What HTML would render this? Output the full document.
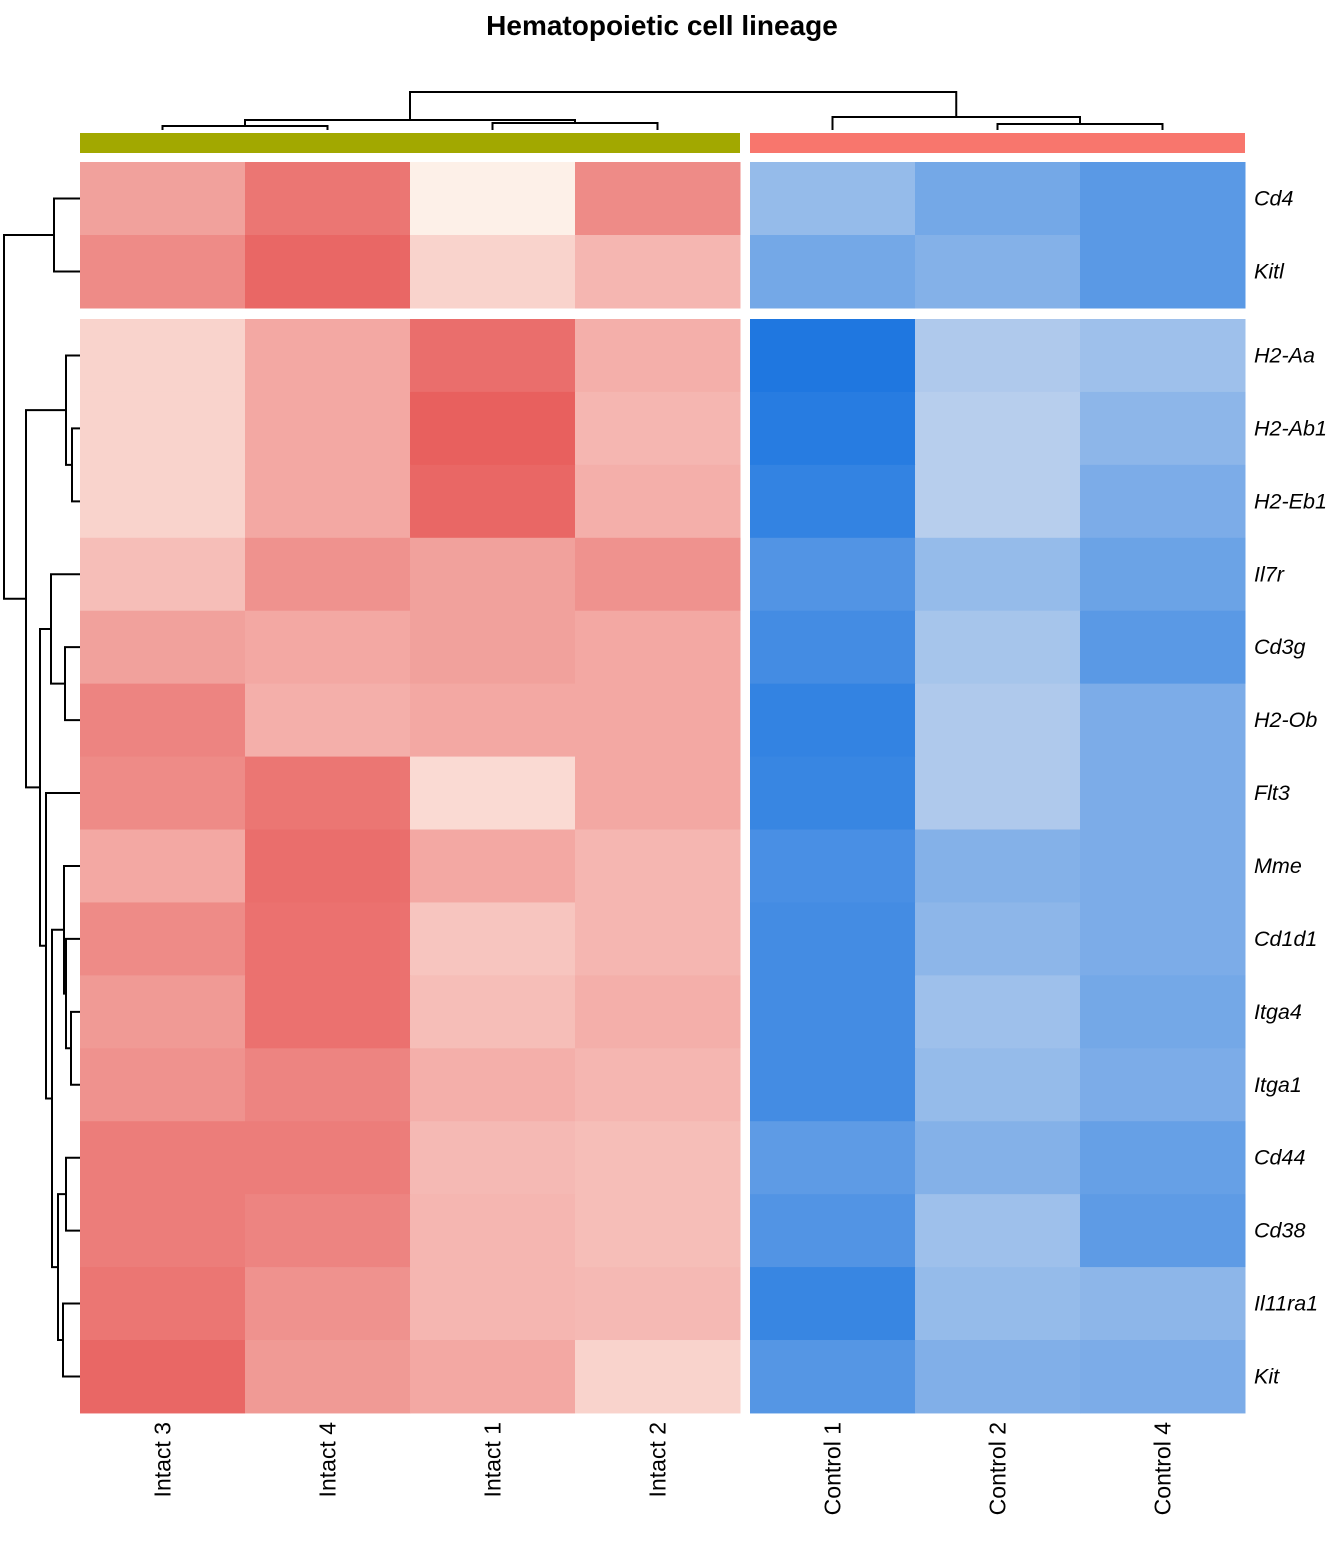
<!DOCTYPE html>
<html><head><meta charset="utf-8"><style>
body{margin:0;background:#fff}
svg text{font-family:"Liberation Sans",sans-serif}
</style></head><body>
<svg id="chart" width="1344" height="1536" xmlns="http://www.w3.org/2000/svg">
<text x="662" y="35" text-anchor="middle" font-size="28" font-weight="bold">Hematopoietic cell lineage</text>
<g id="cells"></g><g id="dendro" stroke="#000" stroke-width="2" fill="none"></g><g id="labels"></g>
</svg>
<script>
const columns=["Intact 3","Intact 4","Intact 1","Intact 2","Control 1","Control 2","Control 4"];
const rows=["Cd4","Kitl","H2-Aa","H2-Ab1","H2-Eb1","Il7r","Cd3g","H2-Ob","Flt3","Mme","Cd1d1","Itga4","Itga1","Cd44","Cd38","Il11ra1","Kit"];
// positive = red intensity (Intact), negative = blue intensity (Control)
const intactValues=[
[0.55,0.85,0.0,0.7],[0.7,0.95,0.2,0.4],[0.2,0.5,0.9,0.45],[0.2,0.5,1.0,0.4],[0.2,0.5,0.95,0.45],
[0.35,0.65,0.55,0.65],[0.55,0.5,0.55,0.5],[0.75,0.45,0.5,0.5],[0.7,0.85,0.15,0.5],[0.5,0.9,0.5,0.4],
[0.7,0.88,0.3,0.4],[0.6,0.88,0.35,0.45],[0.65,0.75,0.45,0.4],[0.8,0.8,0.38,0.35],[0.8,0.75,0.4,0.35],
[0.85,0.65,0.4,0.38],[0.95,0.6,0.5,0.2]];
const controlValues=[
[0.3,0.5,0.65],[0.5,0.4,0.65],[1.0,0.15,0.25],[0.95,0.1,0.35],[0.88,0.1,0.45],
[0.7,0.3,0.55],[0.78,0.2,0.65],[0.88,0.15,0.45],[0.85,0.15,0.45],[0.75,0.4,0.45],
[0.78,0.35,0.45],[0.78,0.25,0.5],[0.78,0.3,0.45],[0.63,0.4,0.58],[0.7,0.25,0.63],
[0.85,0.3,0.35],[0.68,0.42,0.45]];
const NS="http://www.w3.org/2000/svg";
function mk(t,a,p){const e=document.createElementNS(NS,t);for(const k in a)e.setAttribute(k,a[k]);p.appendChild(e);return e;}
function mix(a,b,t){return "rgb("+a.map((v,i)=>Math.round(v+(b[i]-v)*t)).join(",")+")";}
const CW=165;
function colX(j){return j<4?80+j*CW:750+(j-4)*CW;}
function rowY(i){return i<2?162+i*73:319+(i-2)*72.93;}
function rowH(i){return i<2?73:72.93;}
const cells=document.getElementById('cells');
for(let i=0;i<rows.length;i++){
 for(let j=0;j<7;j++){
  const c=j<4?mix([253,240,232],[232,96,94],intactValues[i][j]):mix([200,216,238],[31,119,224],controlValues[i][j-4]);
  const r=mk('rect',{x:colX(j),y:rowY(i),width:CW+0.5,height:rowH(i)+0.5,fill:c},cells);
  
  
 }
}
const lab=document.getElementById('labels');
const a1=mk('rect',{x:80,y:133,width:660,height:20,fill:'#a2a800'},lab);

const a2=mk('rect',{x:750,y:133,width:495,height:20,fill:'#f8766d'},lab);

rows.forEach((r,i)=>{const t=mk('text',{x:1254,y:rowY(i)+rowH(i)/2+7,'font-size':21.5,'font-style':'italic'},lab);t.textContent=r;
 });
columns.forEach((c,j)=>{const x=colX(j)+CW/2+8;const t=mk('text',{x:x,y:1422,'font-size':23,'text-anchor':'end',transform:'rotate(-90 '+x+' 1422)'},lab);t.textContent=c;
 });
const dg=document.getElementById('dendro');
function rc(i){return rowY(i)+rowH(i)/2;}
function cc(j){return colX(j)+CW/2;}
function line(p){const e=mk('path',{d:p},dg);}
function hm(a,b,x){line(`M${a[1]} ${a[0]}H${x}V${b[0]}H${b[1]}`);return [(a[0]+b[0])/2,x];}
const L=i=>[rc(i),80];
const g1=hm(L(0),L(1),54);
const h2=hm(L(2),hm(L(3),L(4),72),66);
const g3=hm(L(5),hm(L(6),L(7),65),51);
const mme=hm(L(9),hm(L(10),hm(L(11),L(12),71),66),64);
const cd=hm(hm(L(13),L(14),66),hm(L(15),L(16),63),58);
const low=hm(L(8),hm(mme,cd,52),46);
const big=hm(h2,hm(g3,low,40),26);
hm(g1,big,4);
function vm(a,b,y){line(`M${a[0]} ${a[1]}V${y}H${b[0]}V${b[1]}`);return [(a[0]+b[0])/2,y];}
const C=j=>[cc(j),130];
const ci=vm(vm(C(0),C(1),126),vm(C(2),C(3),123),120);
const cn=vm(C(4),vm(C(5),C(6),124),117);
vm(ci,cn,92);
</script>
</body></html>
